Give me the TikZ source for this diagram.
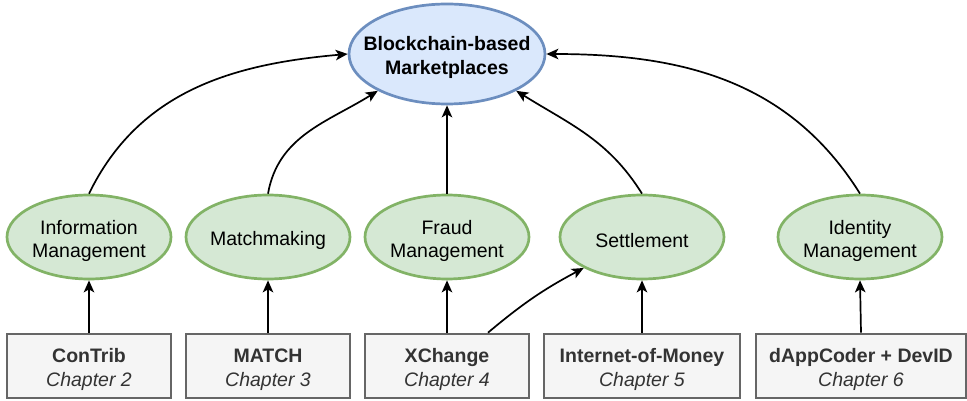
\documentclass[tikz,border=0pt]{standalone}
\usepackage{fontspec}
\setmainfont{Liberation Sans}
\usetikzlibrary{shapes.geometric,arrows.meta,calc}
\definecolor{gfill}{HTML}{D5E8D4}
\definecolor{gline}{HTML}{82B366}
\definecolor{bfill}{HTML}{DAE8FC}
\definecolor{bline}{HTML}{6C8EBF}
\definecolor{boxfill}{HTML}{F5F5F5}
\definecolor{boxline}{HTML}{666666}
\definecolor{boxtext}{HTML}{333333}
\tikzset{
  greenell/.style={ellipse, draw=gline, fill=gfill, line width=2.7pt, minimum width=164pt, minimum height=84pt, inner sep=0pt},
  blueell/.style={ellipse, draw=bline, fill=bfill, line width=2.7pt, minimum width=196pt, minimum height=100pt, inner sep=0pt},
  elltext/.style={align=center, font=\fontsize{19.5}{23}\selectfont, text=black, yshift=-3.5pt},
  chapbox/.style={rectangle, draw=boxline, fill=boxfill, line width=2.7pt, minimum height=64pt},
  chaptext/.style={align=center, text=boxtext, font=\fontsize{19.5}{24}\selectfont, yshift=-3.5pt},
  conn/.style={draw=black, line width=1.7pt, -{Stealth[length=12pt,width=10.5pt,inset=3pt]}}
}
\begin{document}
\begin{tikzpicture}[x=1pt,y=-1pt]
\useasboundingbox (0,0) rectangle (967,401);
% top
\node[blueell] (top) at (447,54) {};
\node[elltext, font=\fontsize{19.5}{23.5}\selectfont\bfseries] (toplbl) at (top) {Blockchain-based\\Marketplaces};
% middle
\node[greenell] (info) at (89,237) {};
\node[elltext] (infolbl) at (info) {Information\\Management};
\node[greenell] (match) at (268,237) {};
\node[elltext] (matchlbl) at (match) {Matchmaking};
\node[greenell] (fraud) at (447,237) {};
\node[elltext] (fraudlbl) at (fraud) {Fraud\\Management};
\node[greenell] (settle) at (642,237) {};
\node[elltext] (settlelbl) at (settle) {Settlement};
\node[greenell] (ident) at (860,237) {};
\node[elltext] (identlbl) at (ident) {Identity\\Management};
% boxes
\node[chapbox, minimum width=164pt] (contrib) at (89,366) {};
\node[chaptext] (contriblbl) at (contrib) {\textbf{ConTrib}\\\textit{Chapter 2}};
\node[chapbox, minimum width=164pt] (matchb) at (268,366) {};
\node[chaptext] (matchblbl) at (matchb) {\textbf{MATCH}\\\textit{Chapter 3}};
\node[chapbox, minimum width=164pt] (xch) at (447,366) {};
\node[chaptext] (xchlbl) at (xch) {\textbf{XChange}\\\textit{Chapter 4}};
\node[chapbox, minimum width=196pt] (iom) at (642,366) {};
\node[chaptext] (iomlbl) at (iom) {\textbf{Internet-of-Money}\\\textit{Chapter 5}};
\node[chapbox, minimum width=210pt] (dapp) at (861,366) {};
\node[chaptext] (dapplbl) at (dapp) {\textbf{dAppCoder + DevID}\\\textit{Chapter 6}};
\coordinate (xchout) at ([xshift=41pt]xch.north);
% connectors
\draw[conn] (contrib) -- (info);
\draw[conn] (matchb) -- (match);
\draw[conn] (xch) -- (fraud);
\draw[conn] (iom) -- (settle);
\draw[conn] (dapp.north) -- (ident.south);
\draw[conn] (xchout) to[out=40,in=208] (settle.208);
\draw[conn] (info.north) to[out=64,in=185] (top.west);
\draw[conn] (match.north) to[out=80,in=212] (top.208);
\draw[conn] (fraud.north) -- (top.south);
\draw[conn] (settle.north) to[out=122,in=-32] (top.332);
\draw[conn] (ident.north) to[out=122,in=0] (top.east);
\end{tikzpicture}
\end{document}
